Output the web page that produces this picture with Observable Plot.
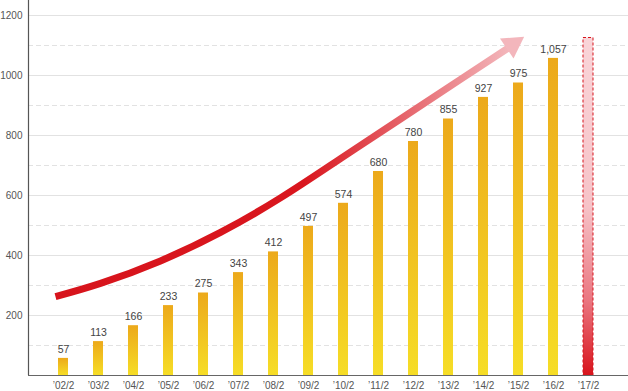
<!DOCTYPE html>
<html>
<head>
<meta charset="utf-8">
<script src="https://cdn.jsdelivr.net/npm/d3@7"></script>
<script src="https://cdn.jsdelivr.net/npm/@observablehq/plot@0.6"></script>
<style>
  html, body { margin: 0; padding: 0; background: #fff; }
</style>
</head>
<body>
<div id="chart"></div>
<script>
// ---- data ----
const periods = ["’02/2","’03/2","’04/2","’05/2","’06/2","’07/2","’08/2","’09/2","’10/2","’11/2","’12/2","’13/2","’14/2","’15/2","’16/2","’17/2"];
const actualValues = [57,113,166,233,275,343,412,497,574,680,780,855,927,975,1057];
const forecastValue = 1125;           // '17/2 projected bar (no label)
const yTicks = [200,400,600,800,1000,1200];
const yMinorTicks = [100,300,500,700,900,1100];
// trend arrow path, in (period index, value) units
const trendIndex = [-0.229, 1.057, 2.771, 4.486, 6.2, 7.914, 9.629, 11.343, 12.686];
const trendValue = [263, 307, 382, 477, 592, 723, 855, 987, 1090];
const arrowHead = {i: 12.83, v: 1103};

const actual = actualValues.map((v, i) => ({i, v}));
const forecast = [{i: actualValues.length, v: forecastValue}];
const trend = trendIndex.map((i, k) => ({i, v: trendValue[k]}));
const half = 0.143;

const defs = () => {
  const d = d3.create("svg:defs");
  const g1 = d.append("linearGradient").attr("id", "barGrad").attr("x1", 0).attr("y1", 0).attr("x2", 0).attr("y2", 1);
  g1.append("stop").attr("offset", "0").attr("stop-color", "#ECA91B");
  g1.append("stop").attr("offset", "1").attr("stop-color", "#F6DD26");
  const g2 = d.append("linearGradient").attr("id", "foreGrad").attr("x1", 0).attr("y1", 0).attr("x2", 0).attr("y2", 1);
  g2.append("stop").attr("offset", "0").attr("stop-color", "#F9D4D8");
  g2.append("stop").attr("offset", "0.5").attr("stop-color", "#F6C3C8");
  g2.append("stop").attr("offset", "0.78").attr("stop-color", "#EA7680");
  g2.append("stop").attr("offset", "1").attr("stop-color", "#D8141C");
  const g3 = d.append("linearGradient").attr("id", "trendGrad").attr("x1", 0).attr("y1", 0).attr("x2", 1).attr("y2", 0);
  g3.append("stop").attr("offset", "0").attr("stop-color", "#D7141C");
  g3.append("stop").attr("offset", "0.55").attr("stop-color", "#D9161E");
  g3.append("stop").attr("offset", "1").attr("stop-color", "#F3B5BA");
  return d.node();
};

const chart = Plot.plot({
  width: 628,
  height: 391,
  marginLeft: 28,
  marginRight: 0,
  marginTop: 0,
  marginBottom: 16,
  style: {fontFamily: "'Liberation Sans', Arial, sans-serif", fontSize: "10px", color: "#555", background: "#fff"},
  x: {domain: [-1, 16.142857], ticks: d3.range(periods.length), tickFormat: i => periods[i], tickSize: 0, tickPadding: 6, label: null},
  y: {domain: [0, 1250], ticks: yTicks, tickFormat: d3.format("d"), tickSize: 0, tickPadding: 6, label: null},
  marks: [
    defs,
    Plot.ruleY(yTicks, {stroke: "#E2E2E2", strokeWidth: 1}),
    Plot.ruleY(yMinorTicks, {stroke: "#E2E2E2", strokeWidth: 1, strokeDasharray: "5,3"}),
    Plot.rectY(actual, {x1: d => d.i - half, x2: d => d.i + half, y1: 0, y2: "v", fill: "url(#barGrad)"}),
    Plot.rectY(forecast, {x1: d => d.i - half, x2: d => d.i + half, y1: 0, y2: "v", fill: "url(#foreGrad)", stroke: "#D7141C", strokeWidth: 1, strokeDasharray: "3,2"}),
    Plot.text(actual, {x: "i", y: "v", text: d => d3.format(",")(d.v), dy: -9, fill: "#444", fontSize: 10.5}),
    Plot.line(trend, {x: "i", y: "v", curve: "natural", stroke: "url(#trendGrad)", strokeWidth: 7, strokeLinecap: "butt"}),
    Plot.dot([arrowHead], {x: "i", y: "v", symbol: "triangle", r: 9, rotate: 56, fill: "#F3B6BC", stroke: "none"}),
    Plot.ruleY([0], {stroke: "#666", strokeWidth: 1.2}),
    Plot.ruleX([-1], {y1: 0, y2: 1250, stroke: "#555", strokeWidth: 1.2})
  ]
});
document.getElementById("chart").appendChild(chart);
</script>
</body>
</html>
